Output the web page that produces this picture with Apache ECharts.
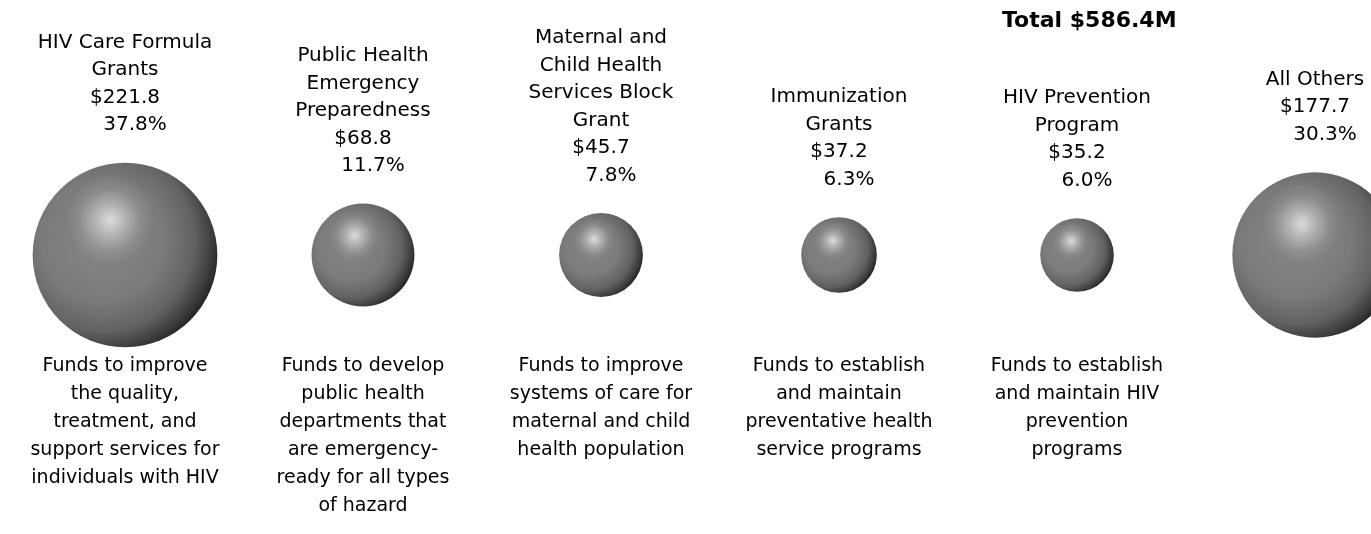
<!DOCTYPE html>
<html><head><meta charset="utf-8">
<script src="https://cdn.jsdelivr.net/npm/echarts@6/dist/echarts.min.js"></script>
<style>html,body{margin:0;padding:0;background:#fff}#c{width:1371px;height:534px}</style>
</head><body><div id="c"></div>
<script>
const categories = ["HIV Care Formula\nGrants", "Public Health\nEmergency\nPreparedness", "Maternal and\nChild Health\nServices Block\nGrant", "Immunization\nGrants", "HIV Prevention\nProgram", "All Others"];
const amounts = [221.8, 68.8, 45.7, 37.2, 35.2, 177.7];
const descriptions = [
  "Funds to improve\nthe quality,\ntreatment, and\nsupport services for\nindividuals with HIV",
  "Funds to develop\npublic health\ndepartments that\nare emergency-\nready for all types\nof hazard",
  "Funds to improve\nsystems of care for\nmaternal and child\nhealth population",
  "Funds to establish\nand maintain\npreventative health\nservice programs",
  "Funds to establish\nand maintain HIV\nprevention\nprograms",
  ""
];
const total = amounts.reduce((a, b) => a + b, 0);
const FONT = "DejaVu Sans";
const points = amounts.map((v, i) => [i, 0, v]);
const sizeOf = (val) => Math.sqrt(val[2]) * 12.4;

const chart = echarts.init(document.getElementById('c'), null, {renderer: 'canvas'});
chart.setOption({
  animation: false,
  backgroundColor: '#ffffff',
  title: {
    text: 'Total $' + total.toFixed(1) + 'M',
    left: 997, top: 5,
    textStyle: {fontFamily: FONT, fontSize: 22, fontWeight: 'bold', color: '#000'}
  },
  grid: {left: 125, right: 56, top: 158, bottom: 182, containLabel: false},
  xAxis: {
    type: 'category',
    data: categories,
    boundaryGap: false,
    axisLine: {show: false}, axisTick: {show: false}, splitLine: {show: false},
    axisLabel: {
      interval: 0, margin: 0, fontFamily: FONT, fontSize: 19, lineHeight: 28, color: '#000',
      formatter: (val, idx) => descriptions[idx]
    }
  },
  yAxis: {type: 'value', min: -1, max: 1, show: false},
  series: [{
    type: 'scatter',
    clip: false,
    data: points,
    symbol: 'circle',
    symbolSize: sizeOf,
    itemStyle: {
      opacity: 1,
      color: {
        type: 'radial', x: 0.38, y: 0.42, r: 0.66,
        colorStops: [
          {offset: 0, color: '#868686'},
          {offset: 0.5, color: '#7b7b7b'},
          {offset: 0.75, color: '#626262'},
          {offset: 0.9, color: '#3c3c3c'},
          {offset: 1, color: '#1c1c1c'}
        ]
      }
    },
    label: {
      show: true, position: 'top', distance: 24,
      fontFamily: FONT, fontSize: 20, lineHeight: 27.5, color: '#000', align: 'center',
      formatter: (p) => '{n|' + categories[p.dataIndex] + '}\n{n|$' + p.value[2].toFixed(1) + '}\n{p|' + (p.value[2] / total * 100).toFixed(1) + '%}',
      rich: {
        n: {fontFamily: FONT, fontSize: 20, lineHeight: 27.5, color: '#000'},
        p: {fontFamily: FONT, fontSize: 20, lineHeight: 27.5, color: '#000', padding: [0, 0, 0, 20]}
      }
    }
  }, {
    type: 'scatter',
    clip: false,
    silent: true,
    data: points,
    symbol: 'circle',
    symbolSize: sizeOf,
    itemStyle: {
      opacity: 1,
      color: {
        type: 'radial', x: 0.42, y: 0.31, r: 0.24,
        colorStops: [
          {offset: 0, color: 'rgba(255,255,255,0.72)'},
          {offset: 0.35, color: 'rgba(255,255,255,0.38)'},
          {offset: 0.7, color: 'rgba(255,255,255,0.1)'},
          {offset: 1, color: 'rgba(255,255,255,0)'}
        ]
      }
    },
    label: {show: false}
  }]
});
</script>
</body></html>
